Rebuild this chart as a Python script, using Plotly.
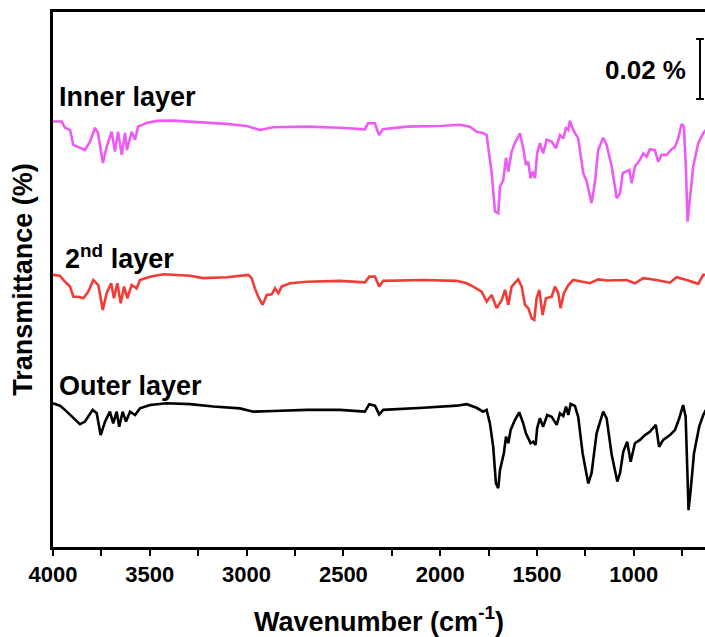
import plotly.graph_objects as go

# FTIR transmittance spectra of three layers (vertically offset)
inner_wn = [4000, 3955, 3938, 3912, 3895, 3861, 3835, 3809, 3783, 3768, 3742, 3723, 3697, 3680,
            3664, 3645, 3628, 3618, 3594, 3576, 3561, 3516, 3464, 3380, 3258, 3103, 3000, 2931,
            2864, 2690, 2518, 2389, 2373, 2337, 2316, 2296, 2173, 1999, 1898, 1846, 1812, 1779,
            1760, 1734, 1717, 1700, 1691, 1674, 1660, 1648, 1631, 1614, 1588, 1571, 1557, 1545,
            1533, 1522, 1510, 1499, 1485, 1468, 1450, 1424, 1402, 1381, 1364, 1350, 1338, 1330,
            1313, 1287, 1261, 1243, 1218, 1201, 1184, 1158, 1140, 1114, 1088, 1071, 1057, 1037,
            1023, 1011, 994, 968, 951, 934, 917, 891, 874, 856, 830, 804, 787, 770, 753, 741,
            731, 722, 710, 693, 667, 641, 627]
inner_t = [0.1418, 0.1418, 0.1397, 0.1390, 0.1340, 0.1330, 0.1323, 0.1351, 0.1397, 0.1380, 0.1280,
           0.1334, 0.1384, 0.1318, 0.1384, 0.1307, 0.1380, 0.1323, 0.1384, 0.1357, 0.1401, 0.1413,
           0.1420, 0.1421, 0.1416, 0.1410, 0.1403, 0.1390, 0.1399, 0.1401, 0.1397, 0.1392, 0.1412,
           0.1412, 0.1373, 0.1392, 0.1401, 0.1403, 0.1407, 0.1401, 0.1384, 0.1380, 0.1373, 0.1247,
           0.1118, 0.1112, 0.1201, 0.1223, 0.1297, 0.1251, 0.1318, 0.1346, 0.1379, 0.1329, 0.1273,
           0.1284, 0.1229, 0.1251, 0.1229, 0.1312, 0.1346, 0.1312, 0.1357, 0.1351, 0.1329, 0.1373,
           0.1362, 0.1396, 0.1390, 0.1421, 0.1390, 0.1362, 0.1246, 0.1218, 0.1146, 0.1212, 0.1323,
           0.1364, 0.1340, 0.1268, 0.1162, 0.1179, 0.1246, 0.1251, 0.1257, 0.1212, 0.1268, 0.1290,
           0.1312, 0.1301, 0.1326, 0.1323, 0.1284, 0.1307, 0.1307, 0.1326, 0.1334, 0.1362, 0.1410,
           0.1401, 0.1268, 0.1084, 0.1157, 0.1268, 0.1346, 0.1379, 0.1390]

second_wn = [4000, 3964, 3938, 3912, 3895, 3869, 3843, 3818, 3792, 3766, 3743, 3723, 3700, 3685,
             3668, 3650, 3633, 3616, 3594, 3568, 3551, 3499, 3430, 3292, 3224, 3103, 2991, 2974,
             2957, 2940, 2917, 2896, 2870, 2853, 2836, 2819, 2776, 2690, 2518, 2389, 2366, 2337,
             2315, 2294, 2087, 1915, 1863, 1829, 1786, 1760, 1734, 1708, 1682, 1665, 1648, 1631,
             1597, 1579, 1562, 1545, 1527, 1514, 1502, 1488, 1471, 1454, 1424, 1407, 1390, 1378,
             1361, 1338, 1313, 1226, 1184, 1140, 1037, 994, 951, 882, 813, 779, 727, 667, 641, 627]
second_t = [0.0907, 0.0904, 0.0884, 0.0868, 0.0834, 0.0834, 0.0829, 0.0851, 0.0890, 0.0873, 0.0790,
            0.0846, 0.0879, 0.0829, 0.0879, 0.0812, 0.0868, 0.0829, 0.0873, 0.0862, 0.0890, 0.0901,
            0.0909, 0.0904, 0.0896, 0.0899, 0.0907, 0.0896, 0.0862, 0.0834, 0.0807, 0.0840, 0.0842,
            0.0862, 0.0846, 0.0868, 0.0879, 0.0884, 0.0887, 0.0882, 0.0901, 0.0901, 0.0868, 0.0887,
            0.0890, 0.0887, 0.0879, 0.0868, 0.0851, 0.0818, 0.0840, 0.0796, 0.0823, 0.0857, 0.0807,
            0.0868, 0.0892, 0.0868, 0.0807, 0.0796, 0.0762, 0.0757, 0.0829, 0.0857, 0.0773, 0.0829,
            0.0834, 0.0868, 0.0846, 0.0796, 0.0846, 0.0873, 0.0890, 0.0879, 0.0892, 0.0888, 0.0890,
            0.0879, 0.0896, 0.0890, 0.0881, 0.0899, 0.0890, 0.0877, 0.0907, 0.0907]

outer_wn = [4000, 3964, 3938, 3912, 3886, 3861, 3835, 3809, 3795, 3774, 3754, 3731, 3706, 3689,
            3671, 3658, 3640, 3623, 3602, 3576, 3551, 3499, 3413, 3292, 3172, 3034, 2965, 2862,
            2690, 2518, 2389, 2366, 2337, 2315, 2294, 2087, 1915, 1863, 1812, 1778, 1760, 1743,
            1726, 1712, 1700, 1691, 1671, 1660, 1648, 1636, 1614, 1592, 1571, 1557, 1545, 1533,
            1519, 1507, 1499, 1485, 1468, 1447, 1424, 1398, 1381, 1364, 1350, 1338, 1326, 1304,
            1287, 1264, 1235, 1218, 1192, 1158, 1140, 1114, 1085, 1071, 1054, 1034, 1016, 994,
            968, 942, 917, 886, 869, 848, 813, 787, 765, 745, 732, 724, 717, 706, 689, 662, 641, 627]
outer_t = [0.0479, 0.0471, 0.0457, 0.0440, 0.0423, 0.0409, 0.0418, 0.0446, 0.0457, 0.0446, 0.0373,
           0.0418, 0.0451, 0.0412, 0.0451, 0.0401, 0.0451, 0.0418, 0.0451, 0.0440, 0.0462, 0.0473,
           0.0479, 0.0476, 0.0468, 0.0462, 0.0451, 0.0453, 0.0457, 0.0457, 0.0451, 0.0476, 0.0471,
           0.0442, 0.0457, 0.0464, 0.0471, 0.0476, 0.0464, 0.0451, 0.0457, 0.0412, 0.0334, 0.0212,
           0.0196, 0.0257, 0.0312, 0.0368, 0.0346, 0.0390, 0.0423, 0.0449, 0.0412, 0.0379, 0.0362,
           0.0346, 0.0351, 0.0340, 0.0396, 0.0429, 0.0401, 0.0440, 0.0434, 0.0407, 0.0446, 0.0437,
           0.0468, 0.0440, 0.0477, 0.0470, 0.0434, 0.0312, 0.0212, 0.0246, 0.0379, 0.0451, 0.0429,
           0.0307, 0.0218, 0.0246, 0.0318, 0.0351, 0.0284, 0.0346, 0.0357, 0.0373, 0.0384, 0.0407,
           0.0334, 0.0357, 0.0373, 0.0390, 0.0429, 0.0473, 0.0434, 0.0279, 0.0123, 0.0190, 0.0312,
           0.0401, 0.0440, 0.0457]

x_ticks = [4000, 3500, 3000, 2500, 2000, 1500, 1000]
scale_bar = 0.02          # height of the scale bar in % transmittance
scale_bar_bottom = 0.1493

FONT = "Arial, Liberation Sans, sans-serif"
COL_INNER = "#EC5CF4"
COL_SECOND = "#F03B37"
COL_OUTER = "#000000"

fig = go.Figure()
for wn, t, col in [(inner_wn, inner_t, COL_INNER),
                   (second_wn, second_t, COL_SECOND),
                   (outer_wn, outer_t, COL_OUTER)]:
    fig.add_trace(go.Scatter(x=wn, y=t, mode="lines",
                             line=dict(color=col, width=2.6), showlegend=False))

label_font = dict(family=FONT, size=27, color="black", weight="bold")
fig.add_annotation(x=3978, y=0.1500, text="Inner layer", showarrow=False,
                   xanchor="left", yanchor="middle", font=label_font)
fig.add_annotation(x=3948, y=0.0967, text="2<sup>nd</sup> layer", showarrow=False,
                   xanchor="left", yanchor="middle", font=label_font)
fig.add_annotation(x=3980, y=0.0537, text="Outer layer", showarrow=False,
                   xanchor="left", yanchor="middle", font=label_font)
fig.add_annotation(x=720, y=scale_bar_bottom + scale_bar / 2 - 0.0003, text="0.02 %",
                   showarrow=False, xanchor="right", yanchor="middle",
                   font=dict(family=FONT, size=26, color="black", weight="bold"))

# scale bar with end caps
bar_x, cap_l, cap_r = 658, 678, 638
y0, y1 = scale_bar_bottom, scale_bar_bottom + scale_bar
fig.add_shape(type="line", x0=bar_x, x1=bar_x, y0=y0, y1=y1, line=dict(color="black", width=2))
fig.add_shape(type="line", x0=cap_l, x1=cap_r, y0=y0, y1=y0, line=dict(color="black", width=2))
fig.add_shape(type="line", x0=cap_l, x1=cap_r, y0=y1, y1=y1, line=dict(color="black", width=2))

fig.update_layout(
    width=705, height=637,
    margin=dict(l=53, r=0, t=12, b=90),
    plot_bgcolor="white", paper_bgcolor="white",
    xaxis=dict(
        range=[4000, 632], tickvals=x_ticks, ticktext=[str(v) for v in x_ticks],
        ticks="outside", ticklen=6, tickwidth=2, tickcolor="black",
        minor=dict(dtick=250, tick0=0, ticks="outside", ticklen=6, tickwidth=2, tickcolor="black"),
        showline=True, linewidth=2.5, linecolor="black", mirror=True,
        showgrid=False, zeroline=False,
        tickfont=dict(family=FONT, size=22, color="black", weight="bold"),
        title=dict(text="Wavenumber (cm<sup>-1</sup>)", standoff=26,
                   font=dict(family=FONT, size=27, color="black", weight="bold")),
    ),
    yaxis=dict(
        range=[0, 0.1783], showticklabels=False, ticks="",
        showline=True, linewidth=2.5, linecolor="black", mirror=False,
        showgrid=False, zeroline=False,
        title=dict(text="Transmittance (%)", standoff=10,
                   font=dict(family=FONT, size=27, color="black", weight="bold")),
    ),
)

fig.write_html("out.html")
